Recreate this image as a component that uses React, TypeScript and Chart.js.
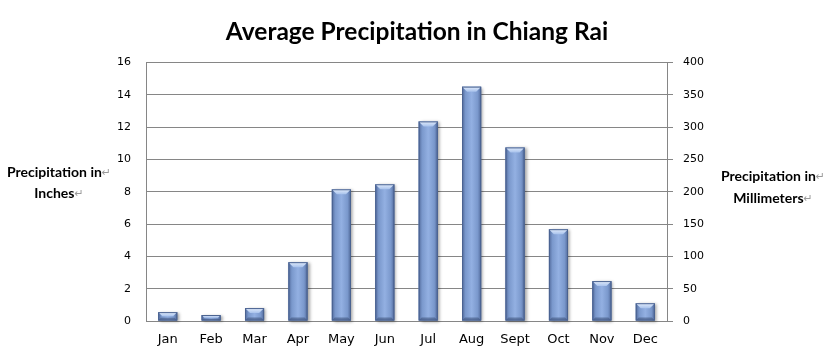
import React, { useEffect, useRef } from "react";
import { Chart, registerables } from "chart.js";

Chart.register(...registerables);

const chartTitle = "Average Precipitation in Chiang Rai";
const months = ["Jan", "Feb", "Mar", "Apr", "May", "Jun", "Jul", "Aug", "Sept", "Oct", "Nov", "Dec"];
const inches = [0.55, 0.37, 0.8, 3.64, 8.15, 8.46, 12.35, 14.5, 10.74, 5.68, 2.47, 1.1];
const inchMax = 16;
const inchStep = 2;
const mmMax = 400;
const mmStep = 50;
const leftAxisTitle = ["Precipitation in", "Inches"];
const rightAxisTitle = ["Precipitation in", "Millimeters"];
const returnMark = "\u21B5";

const bevelBars = {
  id: "bevelBars",
  afterDatasetsDraw(chart: any) {
    const ctx = chart.ctx as CanvasRenderingContext2D;
    const meta = chart.getDatasetMeta(0);
    meta.data.forEach((bar: any) => {
      const { x, y, base, width } = bar.getProps(["x", "y", "base", "width"], true);
      const l = x - width / 2;
      const r = x + width / 2;
      const t = Math.min(y, base);
      const b = Math.max(y, base);
      const h = b - t;
      ctx.save();
      ctx.shadowColor = "rgba(0,0,0,0.35)";
      ctx.shadowBlur = 3;
      ctx.shadowOffsetX = 2;
      ctx.shadowOffsetY = 1;
      const g = ctx.createLinearGradient(l, 0, r, 0);
      g.addColorStop(0, "#51699a");
      g.addColorStop(0.18, "#7a98cc");
      g.addColorStop(0.5, "#93b0e2");
      g.addColorStop(0.82, "#7a98cc");
      g.addColorStop(1, "#51699a");
      ctx.fillStyle = g;
      ctx.fillRect(l, t, width, h);
      ctx.restore();

      ctx.save();
      const bv = Math.min(5, h / 2);
      ctx.beginPath();
      ctx.moveTo(l, t);
      ctx.lineTo(r, t);
      ctx.lineTo(r - bv, t + bv);
      ctx.lineTo(l + bv, t + bv);
      ctx.closePath();
      const g2 = ctx.createLinearGradient(0, t, 0, t + bv);
      g2.addColorStop(0, "#e3edfc");
      g2.addColorStop(1, "#a8c2ec");
      ctx.fillStyle = g2;
      ctx.fill();

      const bb = Math.min(3, h / 3);
      ctx.beginPath();
      ctx.moveTo(l, b);
      ctx.lineTo(r, b);
      ctx.lineTo(r - bb, b - bb);
      ctx.lineTo(l + bb, b - bb);
      ctx.closePath();
      ctx.fillStyle = "rgba(60,80,120,0.55)";
      ctx.fill();

      ctx.strokeStyle = "#4a6290";
      ctx.lineWidth = 1;
      ctx.strokeRect(l + 0.5, t + 0.5, width - 1, h - 1);
      ctx.restore();
    });
  },
};

function drawTitleBlock(ctx: CanvasRenderingContext2D, lines: string[], cx: number, y0: number, gap: number) {
  ctx.save();
  ctx.textBaseline = "middle";
  ctx.textAlign = "left";
  lines.forEach((line, i) => {
    ctx.font = "bold 14px Lato";
    const w1 = ctx.measureText(line).width;
    ctx.font = "11px 'DejaVu Sans'";
    const w2 = ctx.measureText(returnMark).width;
    const start = cx - (w1 + w2) / 2;
    const yy = y0 + i * gap;
    ctx.font = "bold 14px Lato";
    ctx.fillStyle = "#000";
    ctx.fillText(line, start, yy);
    ctx.font = "11px 'DejaVu Sans'";
    ctx.fillStyle = "#9a9a9a";
    ctx.fillText(returnMark, start + w1, yy + 1);
  });
  ctx.restore();
}

const sideTitles = {
  id: "sideTitles",
  afterDraw(chart: any) {
    const ctx = chart.ctx as CanvasRenderingContext2D;
    drawTitleBlock(ctx, leftAxisTitle, 59, 172, 21);
    drawTitleBlock(ctx, rightAxisTitle, 773, 176, 22);
  },
};

export default function App() {
  const ref = useRef<HTMLCanvasElement | null>(null);
  useEffect(() => {
    if (!ref.current) return;
    const chart = new Chart(ref.current, {
      type: "bar",
      data: {
        labels: months,
        datasets: [
          {
            label: "Inches",
            data: inches,
            backgroundColor: "#8aa6d8",
            barPercentage: 0.44,
            categoryPercentage: 1,
            yAxisID: "y",
          },
        ],
      },
      options: {
        animation: false,
        responsive: true,
        maintainAspectRatio: false,
        layout: { padding: 0 },
        plugins: {
          legend: { display: false },
          tooltip: { enabled: false },
          title: {
            display: true,
            text: chartTitle,
            color: "#000",
            font: { family: "Lato", size: 24.5, weight: "bold" },
            padding: { top: 17, bottom: 16 },
          },
        },
        scales: {
          x: {
            grid: { display: false, drawTicks: false },
            border: { color: "#868686", width: 1 },
            ticks: { color: "#000", font: { family: "DejaVu Sans", size: 13 }, padding: 11 },
            afterFit: (s: any) => {
              s.height = 29;
            },
          },
          y: {
            position: "left",
            min: 0,
            max: inchMax,
            ticks: { stepSize: inchStep, color: "#000", font: { family: "DejaVu Sans", size: 11 }, padding: 15 },
            grid: { color: "#868686", drawTicks: false, lineWidth: 1 },
            border: { color: "#868686", width: 1 },
            afterFit: (s: any) => {
              s.width = 146;
            },
          },
          y1: {
            position: "right",
            min: 0,
            max: mmMax,
            ticks: { stepSize: mmStep, color: "#000", font: { family: "DejaVu Sans", size: 11 }, padding: 10 },
            grid: { drawOnChartArea: false, drawTicks: true, tickLength: 6, color: "#868686" },
            border: { color: "#868686", width: 1 },
            afterFit: (s: any) => {
              s.width = 167;
            },
          },
        },
      },
      plugins: [bevelBars, sideTitles],
    });
    return () => chart.destroy();
  }, []);
  return (
    <div style={{ position: "absolute", left: 0, top: 0, width: 834, height: 350, background: "#fff" }}>
      <canvas ref={ref} />
    </div>
  );
}
